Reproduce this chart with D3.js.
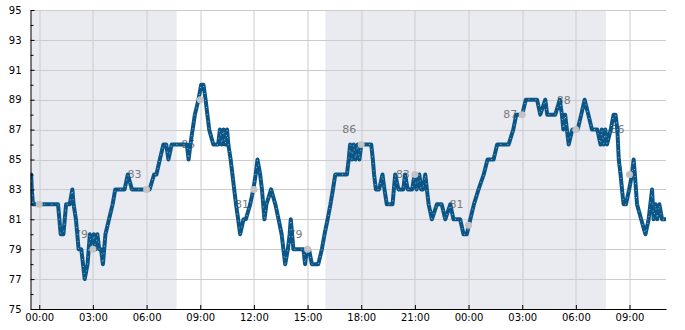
<!DOCTYPE html>
<html>
<head>
<meta charset="utf-8">
<script src="https://cdn.jsdelivr.net/npm/d3@7"></script>
<style>
  body { margin: 0; background: #fff; }
  .axis text { font-family: "DejaVu Sans", sans-serif; font-size: 10px; fill: #000; }
  .axis path, .axis line { stroke: #000; }
</style>
</head>
<body>
<div id="vis"></div>
<script>
//observed temperature, hours from first midnight
var obsHours = [-0.49, -0.45, -0.42, -0.35, 1.05, 1.2, 1.35, 1.5, 1.7, 1.85, 1.92, 2.05, 2.2, 2.35, 2.54, 2.7, 2.83, 2.95, 3.05, 3.15, 3.25, 3.35, 3.45, 3.56, 3.7, 3.9, 4.1, 4.25, 4.77, 4.95, 5.18, 6.17, 6.42, 6.55, 6.74, 6.94, 7.1, 7.22, 7.4, 8.25, 8.35, 8.45, 8.7, 8.9, 9.05, 9.18, 9.3, 9.4, 9.5, 9.73, 10.0, 10.1, 10.2, 10.3, 10.4, 10.5, 10.57, 10.7, 10.9, 11.0, 11.12, 11.23, 11.42, 11.55, 11.79, 11.97, 12.1, 12.2, 12.35, 12.45, 12.59, 12.7, 12.96, 13.2, 13.38, 13.55, 13.65, 13.75, 13.9, 14.0, 14.06, 14.21, 14.77, 14.86, 14.97, 15.08, 15.24, 15.6, 15.8, 15.95, 16.12, 16.28, 16.42, 16.55, 17.2, 17.3, 17.38, 17.48, 17.58, 17.68, 17.8, 17.9, 18.0, 18.56, 18.65, 18.72, 18.82, 19.0, 19.19, 19.3, 19.43, 19.75, 19.9, 20.08, 20.35, 20.45, 20.6, 20.85, 20.98, 21.1, 21.25, 21.35, 21.45, 21.58, 21.67, 21.77, 21.95, 22.23, 22.5, 22.7, 22.98, 23.16, 23.53, 23.72, 23.9, 24.1, 24.3, 24.56, 24.85, 25.06, 25.4, 25.6, 26.24, 26.5, 26.67, 27.0, 27.2, 27.36, 27.83, 28.01, 28.29, 28.4, 28.85, 29.1, 29.22, 29.3, 29.4, 29.5, 29.6, 29.8, 30.1, 30.3, 30.49, 30.7, 30.9, 31.2, 31.38, 31.45, 31.55, 31.65, 31.74, 31.95, 32.11, 32.22, 32.32, 32.4, 32.5, 32.58, 32.67, 32.8, 32.98, 33.14, 33.23, 33.3, 33.36, 33.42, 33.65, 33.89, 34.07, 34.26, 34.35, 34.45, 34.55, 34.67, 34.82, 35.04];
var obsTemps = [84, 84, 83, 82, 82, 80, 80, 82, 82, 83, 82, 81, 79, 79, 77, 78, 80, 79, 80, 79, 80, 79, 79, 78, 80, 81, 82, 83, 83, 84, 83, 83, 84, 84, 85, 86, 86, 85, 86, 86, 85, 86, 88, 89, 90, 90, 89, 88, 87, 86, 86, 87, 86, 87, 86, 87, 86, 85, 83, 82, 81, 80, 81, 81, 82, 83, 84, 85, 84, 83, 81, 82, 83, 82, 81, 80, 79, 78, 79, 80, 81, 79, 79, 78, 79, 79, 78, 78, 79, 80, 81, 82, 83, 84, 84, 85, 86, 85, 86, 85, 86, 85, 86, 86, 85, 84, 83, 83, 84, 83, 82, 82, 84, 83, 83, 84, 83, 83, 84, 83, 84, 83, 83, 84, 83, 82, 81, 82, 82, 81, 82, 81, 81, 80, 80, 81, 82, 83, 84, 85, 85, 86, 86, 87, 88, 88, 89, 89, 89, 88, 89, 88, 88, 89, 88, 87, 88, 87, 86, 87, 87, 88, 89, 88, 87, 87, 86, 87, 86, 87, 86, 87, 88, 88, 87, 85, 84, 83, 82, 82, 83, 84, 85, 84, 83, 82, 81, 80, 81, 83, 81, 82, 81, 82, 81, 81];

//forecast points every 3 hours
var fcHours = [0, 3, 6, 9, 12, 15, 18, 21, 24, 27, 30, 33];
var fcMarks = [82, 79, 83, 89, 83, 79, 86, 84, 80.6, 88, 87, 84]; //grey dots
var fcLabels = [null, 79, 83, 85, 81, 79, 86, 83, 81, 87, 88, 86]; //grey numbers, first one not shown

//night shading, hours
var nightStart = [-0.49, 16.0];
var nightEnd = [7.68, 31.68];

//tick values
var yMajor = [75, 77, 79, 81, 83, 85, 87, 89, 91, 93, 95];
var yMinor = [76, 78, 80, 82, 84, 86, 88, 90, 92, 94];

//set margins, width, and height
var margin = {top: 10, right: 19, bottom: 21, left: 30.5},
  width = 685 - margin.left - margin.right,
  height = 330 - margin.top - margin.bottom;

var base = new Date(2024, 5, 1, 0, 0);
function toDate(h) { return new Date(base.getTime() + h * 3600000); }

//set ranges
var x = d3.scaleTime()
  .domain([toDate(-0.49), toDate(35.04)])
  .range([0, width]);

var y = d3.scaleLinear()
  .domain([75, 95])
  .range([height, 0]);

var svg = d3.select("#vis").append("svg")
  .attr("width", 685)
  .attr("height", 330);

var g = svg.append("g")
  .attr("transform", "translate(" + margin.left + "," + margin.top + ")");

g.append("clipPath")
    .attr("id", "clip")
  .append("rect")
    .attr("width", width)
    .attr("height", height);

var plot = g.append("g").attr("clip-path", "url(#clip)");

//night bands
plot.selectAll(".band")
    .data(nightStart)
  .enter().append("rect")
    .attr("class", "band")
    .attr("x", function(d) { return x(toDate(d)); })
    .attr("y", 0)
    .attr("width", function(d, i) { return x(toDate(nightEnd[i])) - x(toDate(d)); })
    .attr("height", height)
    .attr("fill", "#eaebf1");

//grid
var xTicks = x.ticks(d3.timeHour.every(3));

plot.selectAll(".hgrid")
    .data(yMajor)
  .enter().append("line")
    .attr("x1", 0)
    .attr("x2", width)
    .attr("y1", function(d) { return Math.round(y(d)) + 0.5; })
    .attr("y2", function(d) { return Math.round(y(d)) + 0.5; })
    .attr("stroke", "#cccccc");

plot.selectAll(".vgrid")
    .data(xTicks)
  .enter().append("line")
    .attr("x1", function(d) { return Math.round(x(d)) + 0.5; })
    .attr("x2", function(d) { return Math.round(x(d)) + 0.5; })
    .attr("y1", 0)
    .attr("y2", height)
    .attr("stroke", "#cccccc");

//forecast labels sit under the line
var labelIdx = d3.range(fcHours.length).filter(function(i) { return fcLabels[i] != null; });

plot.selectAll(".fclabel")
    .data(labelIdx)
  .enter().append("text")
    .attr("x", function(i) { return x(toDate(fcHours[i])) - 12; })
    .attr("y", function(i) { return y(fcLabels[i]) - 15; })
    .attr("dy", "0.35em")
    .attr("text-anchor", "middle")
    .attr("font-family", "DejaVu Sans, sans-serif")
    .attr("font-size", 11)
    .attr("fill", "#7a7a7a")
    .text(function(i) { return fcLabels[i]; });

//temperature line
var line = d3.line()
  .x(function(d) { return x(toDate(d)); })
  .y(function(d, i) { return y(obsTemps[i]); });

plot.append("path")
  .datum(obsHours)
  .attr("fill", "none")
  .attr("stroke", "#0b5686")
  .attr("stroke-width", 4)
  .attr("stroke-linejoin", "round")
  .attr("d", line);

plot.append("path")
  .datum(obsHours)
  .attr("fill", "none")
  .attr("stroke", "#8db3cf")
  .attr("stroke-width", 1)
  .attr("stroke-dasharray", "1,6")
  .attr("d", line);

//forecast dots
plot.selectAll(".fcdot")
    .data(fcHours)
  .enter().append("circle")
    .attr("cx", function(d) { return x(toDate(d)); })
    .attr("cy", function(d, i) { return y(fcMarks[i]); })
    .attr("r", 3.5)
    .attr("fill", "#c3c3c3");

//axes
g.append("g")
  .attr("class", "axis")
  .attr("transform", "translate(0," + height + ")")
  .call(d3.axisBottom(x)
    .ticks(d3.timeHour.every(3))
    .tickFormat(d3.timeFormat("%H:%M"))
    .tickSizeInner(-4)
    .tickSizeOuter(0)
    .tickPadding(5));

g.append("g")
  .attr("class", "axis")
  .call(d3.axisLeft(y)
    .tickValues(yMajor)
    .tickSizeInner(-4)
    .tickSizeOuter(0)
    .tickPadding(9));

g.append("g")
  .attr("class", "axis minor")
  .call(d3.axisLeft(y)
    .tickValues(yMinor)
    .tickSizeInner(-3)
    .tickSizeOuter(0)
    .tickFormat(""))
  .select(".domain").remove();
</script>
</body>
</html>
